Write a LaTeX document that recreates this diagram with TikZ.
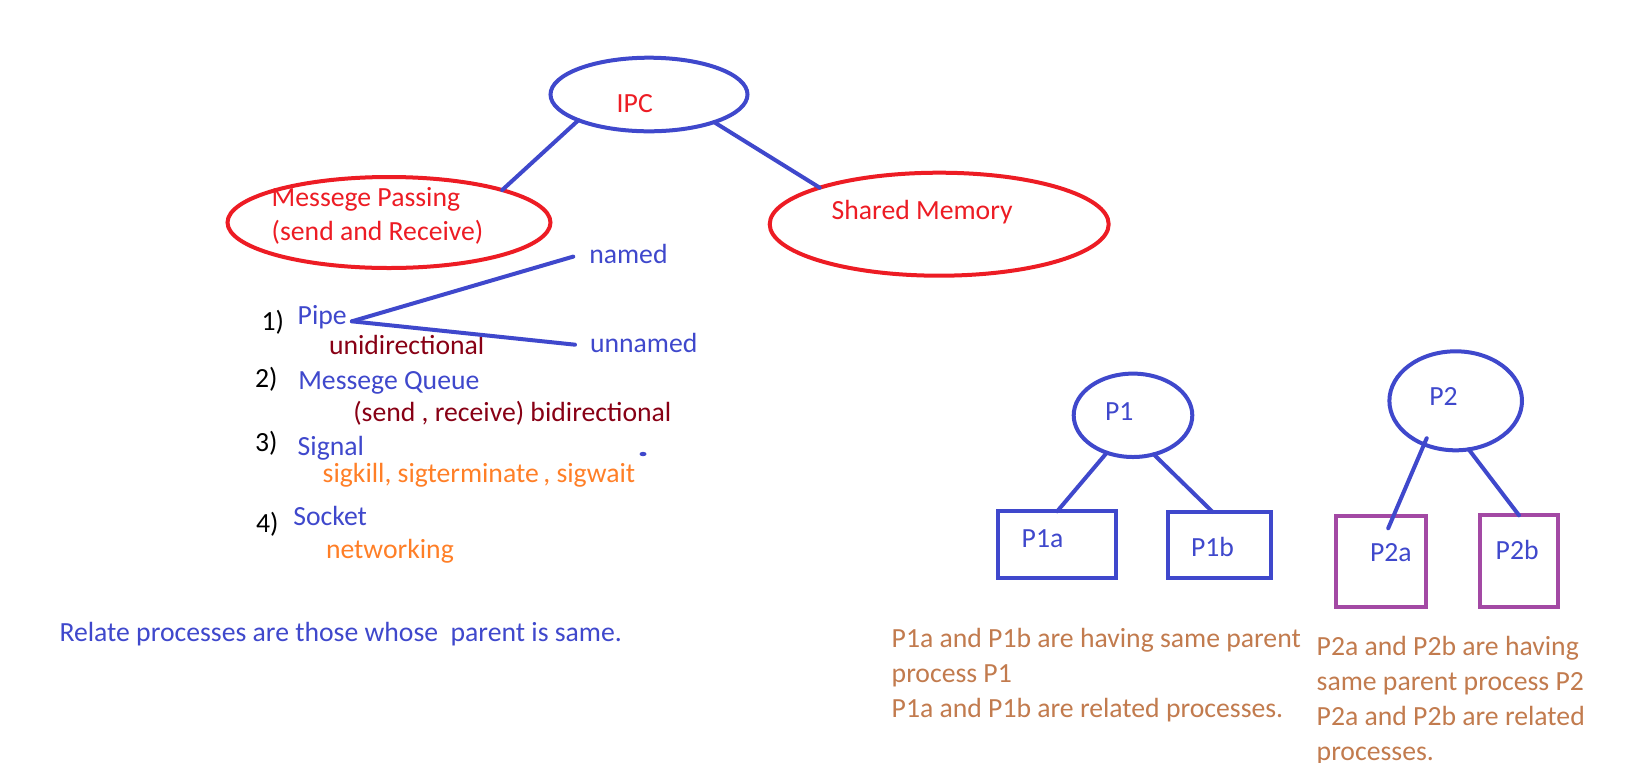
\documentclass[tikz,border=0pt]{standalone}
\usepackage{fontspec}
\setmainfont{Carlito}
\usepackage{xcolor}
\usepackage{tikz}
\usetikzlibrary{shapes.geometric}
\definecolor{paintblue}{HTML}{3F48CC}
\definecolor{paintred}{HTML}{ED1C24}
\definecolor{darkred}{HTML}{880015}
\definecolor{paintorange}{HTML}{FF7F27}
\definecolor{paintpurple}{HTML}{A349A4}
\definecolor{notebrown}{HTML}{C27B4E}

\begin{document}
\begin{tikzpicture}[y=0.5pt, x=0.5pt, yscale=-1, inner sep=0pt, outer sep=0pt,
    txt/.style={anchor=base west, font=\fontsize{13.85}{16.7}\selectfont},
    wire/.style={draw=paintblue, line width=2pt, line cap=round},
    oval/.style={shape=ellipse, draw, line width=2pt},
    proc/.style={shape=rectangle, draw, line width=2pt}]
  \useasboundingbox[fill=white] (0,0) rectangle (1634,762);

  % IPC and its two kinds
  \node[oval, draw=paintblue, minimum width=98.5pt, minimum height=36.8pt] (ipc) at (649,94.5) {};
  \node[oval, draw=paintred, minimum width=161.5pt, minimum height=45.5pt] (msgpass) at (389,222.5) {};
  \node[oval, draw=paintred, minimum width=169.5pt, minimum height=51.5pt] (shmem) at (939.2,224.2) {};
  \node[txt, text=paintred] (ipctext) at (616.7,112.7) {IPC};
  % multi-line: base is the last line
  \node[txt, text=paintred, align=left] (msgtext) at (271.7,240) {Messege Passing\\(send and Receive)};
  \node[txt, text=paintred] (shmtext) at (831.7,219) {Shared Memory};
  \draw[wire] (ipc.200) -- (msgpass.16);
  \draw[wire] (ipc.337) -- (shmem.163);

  % message passing list
  \node[txt] (n1) at (261.7,330) {1)};
  \node[txt, text=paintblue] (pipe) at (297.7,324) {Pipe};
  \node[txt, text=darkred] (unidir) at (329,354) {unidirectional};
  \node[txt, text=paintblue] (named) at (589.3,263.3) {named};
  \node[txt, text=paintblue] (unnamed) at (590,352.7) {unnamed};
  \draw[wire] ([xshift=2.6pt,yshift=2.3pt]pipe.east) -- ([xshift=-8pt,yshift=1.4pt]named.west);
  \draw[wire] ([xshift=2.6pt,yshift=2.3pt]pipe.east) -- ([xshift=-7.5pt,yshift=0.75pt]unnamed.west);
  \node[txt] (n2) at (255,387) {2)};
  \node[txt, text=paintblue] (queue) at (298.3,389) {Messege Queue};
  \node[txt, text=darkred] (bidir) at (353.3,421.7) {(send , receive) bidirectional};
  \node[txt] (n3) at (255,451.7) {3)};
  \node[txt, text=paintblue] (signal) at (297.7,455) {Signal};
  \node[txt, text=paintorange] (sigs) at (322.7,482.7) {sigkill, sigterminate\,, sigwait};
  \fill[paintblue] (643,454) ellipse [x radius=3.5, y radius=2.2];
  \node[txt] (n4) at (256,532) {4)};
  \node[txt, text=paintblue] (socket) at (293.3,525) {Socket};
  \node[txt, text=paintorange] (netw) at (326,558) {networking};
  \node[txt, text=paintblue] (relnote) at (59.5,641) {Relate processes are those whose\ \ parent is same.};

  % P1 family
  \node[oval, draw=paintblue, minimum width=59.3pt, minimum height=41.7pt] (p1) at (1133,415.3) {};
  \node[proc, draw=paintblue, minimum width=59.2pt, minimum height=33.4pt] (p1a) at (1057.2,544.7) {};
  \node[proc, draw=paintblue, minimum width=51.7pt, minimum height=33pt] (p1b) at (1219.7,545) {};
  \node[txt, text=paintblue] (p1text) at (1105,420.7) {P1};
  \node[txt, text=paintblue] (p1atext) at (1021.7,547.3) {P1a};
  \node[txt, text=paintblue] (p1btext) at (1191,556.7) {P1b};
  \draw[wire] (p1.235) -- (p1a.north);
  \draw[wire] (p1.298) -- (p1b.102);

  % P2 family
  \node[oval, draw=paintblue, minimum width=66.3pt, minimum height=49.5pt] (p2) at (1455.7,400.8) {};
  \node[proc, draw=paintpurple, minimum width=45.2pt, minimum height=45.7pt] (p2a) at (1381.2,561.7) {};
  \node[proc, draw=paintpurple, minimum width=39pt, minimum height=46pt] (p2b) at (1519,561.3) {};
  \node[txt, text=paintblue] (p2text) at (1429.3,405.7) {P2};
  \node[txt, text=paintblue] (p2atext) at (1370,561.7) {P2a};
  \node[txt, text=paintblue] (p2btext) at (1495.7,559) {P2b};
  \draw[wire, shorten <=-3.3pt, shorten >=-6.7pt] (p2.234) -- (p2a.75);
  \draw[wire] (p2.285) -- (p2b.north);

  % notes
  \node[txt, text=notebrown, align=left, font=\fontsize{13.85}{17.5}\selectfont] (p1note) at (891.7,717.3)
    {P1a and P1b are having same parent\\process P1\\P1a and P1b are related processes.};
  \node[txt, text=notebrown, align=left, font=\fontsize{13.85}{17.35}\selectfont] (p2note) at (1316.7,760)
    {P2a and P2b are having\\same parent process P2\\P2a and P2b are related\\processes.};
\end{tikzpicture}
\end{document}
